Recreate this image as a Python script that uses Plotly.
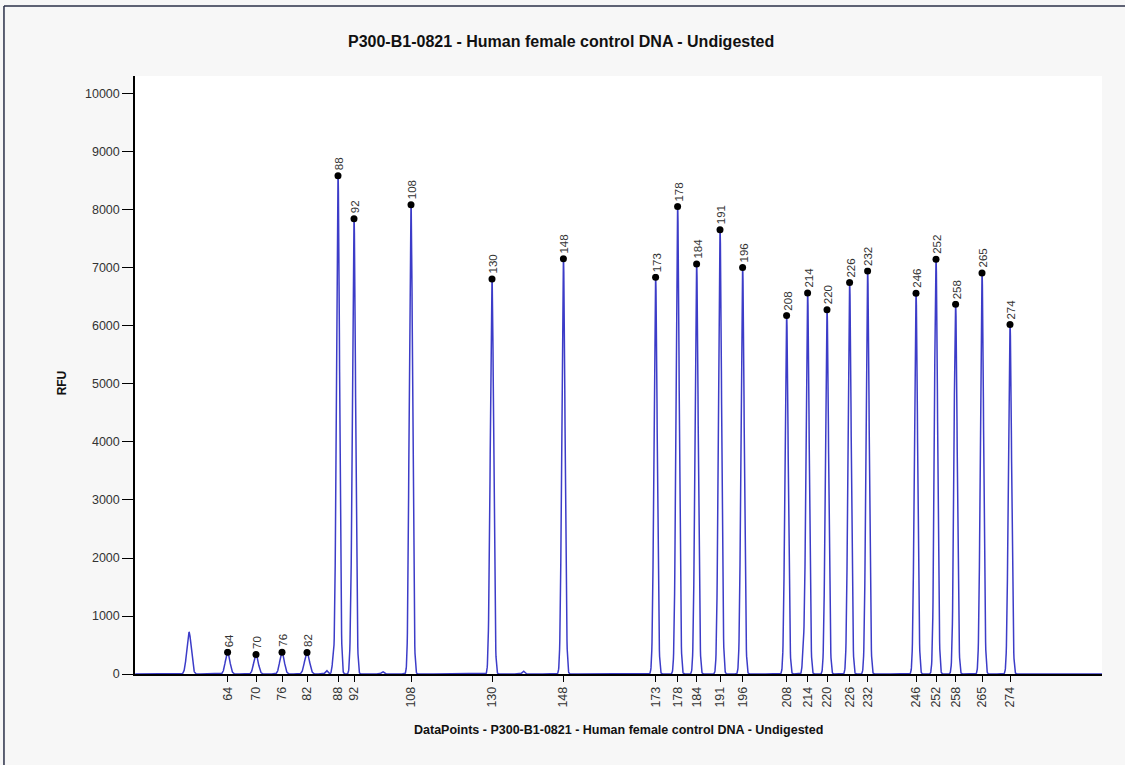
import numpy as np
import plotly.graph_objects as go

# ---- data ----
# labelled peaks: size label, position (data points), height (RFU), width (sigma, data points)
peak_sizes = [64, 70, 76, 82, 88, 92, 108, 130, 148, 173, 178, 184, 191, 196,
              208, 214, 220, 226, 232, 246, 252, 258, 265, 274]
peak_pos = [1463, 1605, 1735, 1860, 2015, 2095, 2380, 2785, 3142, 3603, 3713, 3808,
            3925, 4038, 4258, 4363, 4460, 4573, 4663, 4905, 5005, 5103, 5235, 5375]
peak_rfu = [376, 337, 376, 371, 8590, 7850, 8090, 6810, 7160, 6840, 8060, 7070,
            7660, 7010, 6180, 6570, 6280, 6750, 6950, 6565, 7150, 6375, 6915, 6025]
peak_sigma = [11, 11, 11, 12, 8, 8, 8, 8, 8, 8, 8, 8,
              8, 8, 8, 8, 8, 8, 8, 8, 8, 8, 8, 8]

# unlabelled peaks / shoulders / bumps
minor_pos = [1270, 1958, 1990, 2078, 2238, 2370, 2771, 2942, 4342]
minor_rfu = [724, 60, 200, 230, 40, 480, 280, 50, 350]
minor_sigma = [11, 6, 5, 5, 6, 4, 5, 6, 5]

x_start, x_end = 1000, 5835
y_ticks = [0, 1000, 2000, 3000, 4000, 5000, 6000, 7000, 8000, 9000, 10000]
y_tick_text = ["0", "1000", "2000", "3000", "4000", "5000", "6000", "7000", "8000",
               "9000", "10000"]

title = "P300-B1-0821 - Human female control DNA - Undigested"
x_title = "DataPoints - P300-B1-0821 - Human female control DNA - Undigested"
y_title = "RFU"

# ---- build trace from peak table ----
dp = np.arange(x_start + 1, x_end + 1, 1.0)
signal = np.zeros_like(dp)
for p, h, s in zip(peak_pos + minor_pos, peak_rfu + minor_rfu, peak_sigma + minor_sigma):
    signal += h * np.exp(-0.5 * ((dp - p) / s) ** 2)

FONT = "Liberation Sans, Arial, sans-serif"

fig = go.Figure()
fig.add_trace(go.Scatter(x=dp, y=signal, mode="lines",
                         line=dict(color="#3c3cc8", width=1.5),
                         hoverinfo="skip", showlegend=False))
fig.add_trace(go.Scatter(x=peak_pos, y=peak_rfu, mode="markers",
                         marker=dict(color="black", size=7),
                         showlegend=False))

for p, h, s in zip(peak_pos, peak_rfu, peak_sizes):
    fig.add_annotation(x=p, y=h, text=str(s), textangle=-90, showarrow=False,
                       xanchor="center", yanchor="bottom", yshift=3, xshift=1,
                       borderpad=1,
                       font=dict(family=FONT, size=11.5, color="#333333"),
                       bgcolor="rgba(255,255,255,0.9)")

fig.add_annotation(xref="paper", yref="paper", x=0.4405, y=1.0, yshift=35,
                   text="<b>" + title + "</b>", showarrow=False,
                   xanchor="center", yanchor="middle",
                   font=dict(family=FONT, size=16, color="#111111"))
fig.add_annotation(xref="paper", yref="paper", x=0.5, y=0.0, yshift=-56,
                   text="<b>" + x_title + "</b>", showarrow=False,
                   xanchor="center", yanchor="middle",
                   font=dict(family=FONT, size=12.5, color="#111111"))
fig.add_annotation(xref="paper", yref="paper", x=0.0, xshift=-73, y=0.486,
                   text="<b>" + y_title + "</b>", showarrow=False, textangle=-90,
                   xanchor="center", yanchor="middle",
                   font=dict(family=FONT, size=12, color="#111111"))

# figure border (top and left edges)
fig.add_shape(type="line", xref="paper", yref="paper",
              x0=-0.1355, x1=1.03, y0=1.117, y1=1.117,
              line=dict(color="#2b3048", width=1.5))
fig.add_shape(type="line", xref="paper", yref="paper",
              x0=-0.1355, x1=-0.1355, y0=-0.16, y1=1.117,
              line=dict(color="#2b3048", width=1.5))

fig.update_layout(
    width=1125, height=765,
    margin=dict(l=135, r=23, t=76, b=91),
    paper_bgcolor="#f7f7f7", plot_bgcolor="white",
    font=dict(family=FONT, size=12, color="#333333"),
    showlegend=False,
)
fig.update_xaxes(range=[x_start, x_end], tickmode="array",
                 tickvals=peak_pos, ticktext=[str(s) for s in peak_sizes],
                 tickangle=-90, ticks="outside", ticklen=6, tickcolor="black",
                 showline=True, linecolor="black", linewidth=1.5,
                 showgrid=False, zeroline=False,
                 tickfont=dict(family=FONT, size=12.5, color="#333333"))
fig.update_yaxes(range=[0, 10310], tickmode="array", tickvals=y_ticks,
                 ticktext=y_tick_text,
                 ticks="outside", ticklen=11, tickcolor="black",
                 showline=True, linecolor="black", linewidth=1.5,
                 showgrid=False, zeroline=False,
                 tickfont=dict(family=FONT, size=12.5, color="#333333"))

fig.write_html("out.html", config={"displayModeBar": False},
               post_script="document.body.style.margin='0';document.body.style.overflow='hidden';")
